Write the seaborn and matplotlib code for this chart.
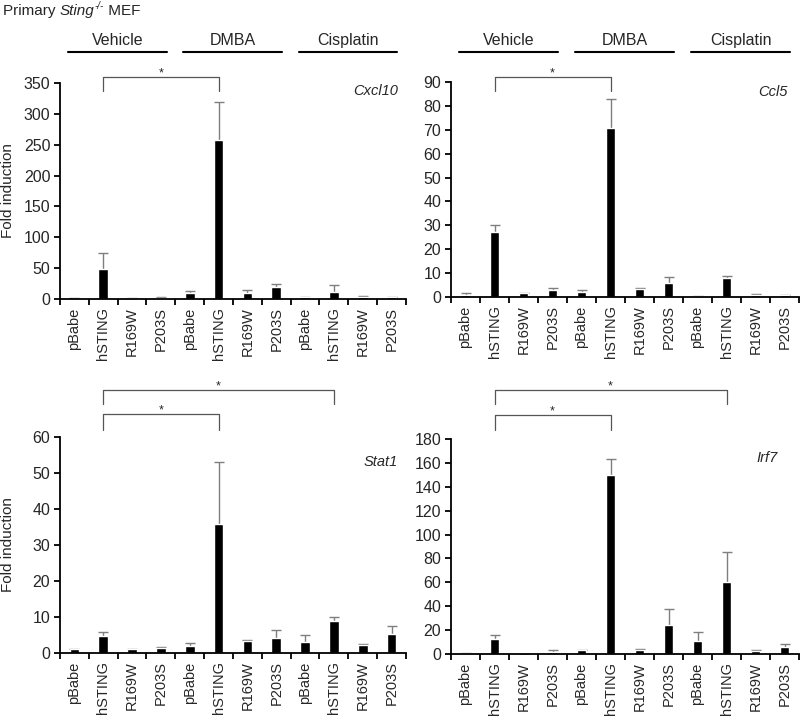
import numpy as np
import pandas as pd
import matplotlib
matplotlib.use("Agg")
import matplotlib.pyplot as plt
import matplotlib.transforms as mtrans
import seaborn as sns

# ---------------- data ----------------
treatments = ["Vehicle", "DMBA", "Cisplatin"]
constructs = ["pBabe", "hSTING", "R169W", "P203S"]

cxcl10_mean = [0.8, 49, 1.0, 2.0, 9, 257, 10, 20, 3, 11, 3, 3]
cxcl10_top = [1.2, 75, 1.5, 2.6, 13, 320, 15, 25, 4, 22, 4.5, 4]

ccl5_mean = [1.0, 27.3, 1.5, 3.0, 2.3, 70.8, 3.5, 5.8, 0.3, 7.8, 0.9, 0.8]
ccl5_top = [1.5, 30.2, 1.8, 3.8, 2.9, 82.8, 3.8, 8.2, 0.4, 9.0, 1.2, 0.9]

stat1_mean = [1.0, 4.8, 1.0, 1.5, 1.9, 35.8, 3.2, 4.1, 3.1, 9.0, 2.2, 5.4]
stat1_top = [1.2, 5.7, 1.1, 1.8, 2.7, 53.0, 3.6, 6.3, 5.0, 10.0, 2.6, 7.6]

irf7_mean = [0.5, 12.5, 0.3, 2.0, 3.0, 149.5, 3.5, 24.0, 10.5, 60.0, 2.5, 6.0]
irf7_top = [0.7, 15.5, 0.4, 3.0, 3.5, 163.0, 4.2, 37.5, 18.2, 85.0, 3.0, 8.0]

genes = ["Cxcl10", "Ccl5", "Stat1", "Irf7"]
ymax = [350, 90, 60, 180]
ystep = [50, 10, 10, 20]

# ---------------- style ----------------
sns.set_theme(style="ticks")
plt.rcParams["font.family"] = ["Liberation Sans", "DejaVu Sans"]

fig = plt.figure(figsize=(8, 7.2), dpi=100)

positions = [
    [60 / 800, (720 - 299) / 720, 346 / 800, 216 / 720],
    [451 / 800, (720 - 297) / 720, 348 / 800, 215 / 720],
    [60 / 800, (720 - 653) / 720, 346 / 800, 216 / 720],
    [451 / 800, (720 - 654) / 720, 348 / 800, 215 / 720],
]
means = [cxcl10_mean, ccl5_mean, stat1_mean, irf7_mean]
tops = [cxcl10_top, ccl5_top, stat1_top, irf7_top]
gene_xy = [(0.977, 0.963), (0.968, 0.953), (0.977, 0.884), (0.94, 0.912)]

keys = [f"{t}|{c}" for t in treatments for c in constructs]
labels = [c for t in treatments for c in constructs]

axes = []
for i in range(4):
    ax = fig.add_axes(positions[i])
    axes.append(ax)
    df = pd.DataFrame({"key": keys, "value": means[i]})
    sns.barplot(data=df, x="key", y="value", order=keys, color="black",
                saturation=1, width=0.33, errorbar=None, ax=ax, zorder=2)
    centers = np.array([p.get_x() + p.get_width() / 2 for p in ax.patches])
    vals = np.array(means[i])
    up = np.array(tops[i]) - vals
    eb = ax.errorbar(centers, vals, yerr=[np.zeros_like(up), up], fmt="none",
                     ecolor="#7f7f7f", elinewidth=1.0, capsize=3.6,
                     capthick=1.0, zorder=1)
    for cl in eb[1]:
        if np.allclose(cl.get_ydata(), vals):
            cl.set_visible(False)

    ax.set_ylim(0, ymax[i])
    ax.set_yticks(np.arange(0, ymax[i] + 1, ystep[i]))
    ax.set_xlim(-0.5, len(keys) - 0.5)
    ax.set_xticks(range(len(keys)))
    ax.set_xticklabels(labels, rotation=90, fontsize=10.5)
    ax.set_xticks(np.arange(-0.5, len(keys), 1), minor=True)
    ax.tick_params(axis="x", which="major", length=0, pad=6)
    ax.tick_params(axis="x", which="minor", length=4, width=1.3,
                   direction="out", color="black")
    ax.tick_params(axis="y", length=4, width=1.3, direction="out",
                   labelsize=11.5, pad=3, color="black")
    ax.set_xlabel("")
    ax.set_ylabel("")
    sns.despine(ax=ax)
    for s in ["left", "bottom"]:
        ax.spines[s].set_linewidth(1.3)
        ax.spines[s].set_color("black")
    ax.set_facecolor("none")

    gx, gy = gene_xy[i]
    ax.text(gx, gy, genes[i], transform=ax.transAxes, ha="right", va="center",
            fontsize=10.5, style="italic")

    ax._centers = centers

# ---------------- group headers (top row) ----------------
for ax, ly, ty in [(axes[0], 1.1435, 1.199), (axes[1], 1.1395, 1.195)]:
    tr = mtrans.blended_transform_factory(ax.transData, ax.transAxes)
    for g, t in enumerate(treatments):
        x0 = ax._centers[g * 4] - 0.22
        x1 = ax._centers[g * 4 + 3] + 0.2
        ax.plot([x0, x1], [ly, ly], color="black", lw=1.5, transform=tr,
                clip_on=False)
        ax.text((x0 + x1) / 2, ty, t, transform=tr, ha="center", va="center",
                fontsize=11.5)


def bracket(ax, i0, i1, yh, yl, ys):
    tr = mtrans.blended_transform_factory(ax.transData, ax.transAxes)
    x0, x1 = ax._centers[i0], ax._centers[i1]
    ax.plot([x0, x0, x1, x1], [yl, yh, yh, yl], color="#555555", lw=0.9,
            transform=tr, clip_on=False)
    ax.text((x0 + x1) / 2, ys, "*", transform=tr, ha="center", va="center",
            fontsize=9)


bracket(axes[0], 1, 5, 1.028, 0.963, 1.045)
bracket(axes[1], 1, 5, 1.023, 0.958, 1.04)
bracket(axes[2], 1, 5, 1.106, 1.032, 1.122)
bracket(axes[2], 1, 9, 1.218, 1.153, 1.234)
bracket(axes[3], 1, 5, 1.112, 1.042, 1.128)
bracket(axes[3], 1, 9, 1.228, 1.163, 1.244)

# ---------------- labels ----------------
fig.text(8 / 800, 1 - (83 + 108) / 720, "Fold induction", rotation=90,
         ha="center", va="center", fontsize=11)
fig.text(8 / 800, 1 - (437 + 108) / 720, "Fold induction", rotation=90,
         ha="center", va="center", fontsize=11)

# title built from pieces: "Primary " + italic "Sting" + superscript "-/-" + " MEF"
renderer = fig.canvas.get_renderer()
x_px = 3.0
y_base = 720 - 15.0
pieces = [("Primary ", {"fontsize": 11}, 0),
          ("Sting", {"fontsize": 11, "style": "italic"}, 0),
          ("-/-", {"fontsize": 7, "style": "italic"}, 6),
          (" MEF", {"fontsize": 11}, 0)]
for txt, kw, dy in pieces:
    t = fig.text(x_px / 800, (y_base + dy) / 720, txt, ha="left",
                 va="baseline", **kw)
    bb = t.get_window_extent(renderer=renderer)
    x_px += bb.width

fig.savefig("out.png", dpi=100)
